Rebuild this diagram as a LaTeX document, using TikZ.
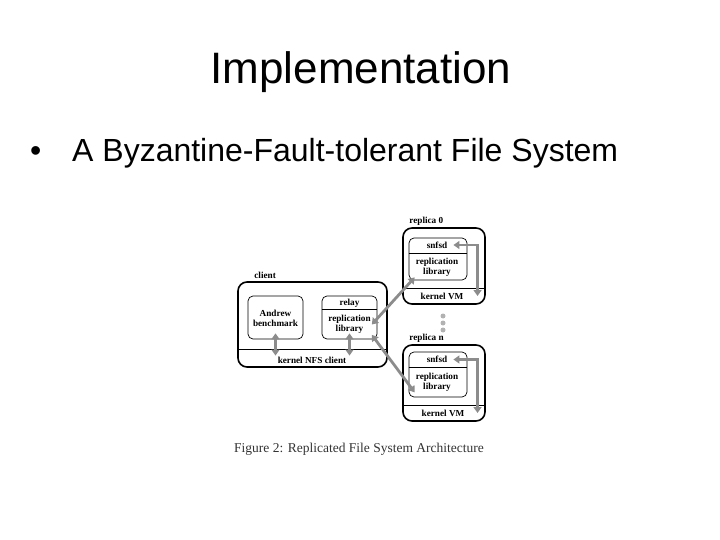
\documentclass[tikz,border=0pt]{standalone}
\usepackage{fontspec}
\setmainfont{Liberation Sans}
\newfontfamily\figfont{Liberation Serif}
\usetikzlibrary{arrows.meta,positioning}

\begin{document}
\begin{tikzpicture}[x=1pt,y=-1pt,>={Triangle[width=8pt,length=6pt]}]
\tikzstyle{outer}=[draw,line width=1.6pt,rounded corners=9pt]
\tikzstyle{inner}=[draw,line width=0.7pt,rounded corners=5pt]
\tikzstyle{lbl}=[font=\figfont\bfseries\fontsize{9.2}{10}\selectfont,inner sep=1pt,align=center]
\tikzstyle{garrow}=[<->,draw=black!45,line width=2.8pt]
\useasboundingbox (0,0) rectangle (720,540);
% slide text
\node[anchor=base,font=\fontsize{44}{50}\selectfont] (title) at (361,84) {Implementation};
\node[anchor=base west,font=\fontsize{32}{36}\selectfont,inner sep=0pt] (dot) at (30,162) {•};
\node[anchor=base west,font=\fontsize{32}{36}\selectfont,inner sep=0pt] (point) at (72,162) {A Byzantine-Fault-tolerant File System};
% client
\node[outer,minimum width=149pt,minimum height=85pt] (client) at (312.5,324.5) {};
\node[lbl,above right=2pt and 17pt of client.north west,inner sep=0pt] (clientlbl) {client};
\node[inner,minimum width=55pt,minimum height=43pt] (andrewbox) at (275.5,317.5) {};
\node[lbl] (andrew) at (275.5,318) {Andrew\\benchmark};
\node[inner,minimum width=55pt,minimum height=43pt] (relaybox) at (349.5,317.5) {};
\node[lbl] (relay) at (349.5,303) {relay};
\node[lbl] (relaylib) at (349.5,324.5) {replication\\library};
\coordinate (ck) at (0,349);
\coordinate (cr) at (0,309.5);
\draw[line width=1pt] (client.west |- ck) -- (client.east |- ck);
\draw[line width=0.7pt] (relaybox.west |- cr) -- (relaybox.east |- cr);
\node[lbl] (knfs) at (312,360) {kernel NFS client};
% replica 0
\node[outer,minimum width=82pt,minimum height=76pt] (rep0) at (444,266) {};
\node[lbl,above right=2pt and 7pt of rep0.north west,inner sep=0pt] (rep0lbl) {replica 0};
\node[inner,minimum width=58pt,minimum height=42pt] (box0) at (438,259) {};
\node[lbl] (sn0) at (437,245) {snfsd};
\node[lbl] (lib0) at (437,267) {replication\\library};
\node[lbl] (kvm0) at (442,296) {kernel VM};
\coordinate (k0) at (0,288);
\coordinate (d0) at (0,253);
\draw[line width=1pt] (rep0.west |- k0) -- (rep0.east |- k0);
\draw[line width=0.7pt] (box0.west |- d0) -- (box0.east |- d0);
% replica n
\node[outer,minimum width=82pt,minimum height=76pt] (repn) at (444,383) {};
\node[lbl,above right=2pt and 7pt of repn.north west,inner sep=0pt] (replbl) {replica n};
\node[inner,minimum width=58pt,minimum height=45pt] (boxn) at (438,374.5) {};
\node[lbl] (snn) at (437,359.5) {snfsd};
\node[lbl] (libn) at (437,382) {replication\\library};
\node[lbl] (kvmn) at (443,413) {kernel VM};
\coordinate (kn) at (0,405);
\coordinate (dn) at (0,367);
\draw[line width=1pt] (repn.west |- kn) -- (repn.east |- kn);
\draw[line width=0.7pt] (boxn.west |- dn) -- (boxn.east |- dn);
% dots between replicas
\foreach \y in {316,323,330}
  \fill[black!30] (443,\y) circle (2.5pt);
% arrows
\draw[garrow] ([yshift=6pt]andrewbox.south) -- (andrewbox.south |- knfs.north);
\draw[garrow] ([yshift=6pt]relaybox.south) -- (relaybox.south |- knfs.north);
\draw[garrow] (relaylib.east) -- (lib0.south west);
\draw[garrow] (relaylib.south east) -- (libn.south west);
\draw[garrow] ([xshift=5pt]sn0.east) -| ([xshift=13pt]kvm0.east);
\draw[garrow] ([xshift=5pt]snn.east) -| ([xshift=12pt]kvmn.east);
% caption
\node[font=\figfont\fontsize{13.5}{15}\selectfont,text=black!80] (caption) at (359,449) {Figure 2: Replicated File System Architecture};
\end{tikzpicture}
\end{document}
